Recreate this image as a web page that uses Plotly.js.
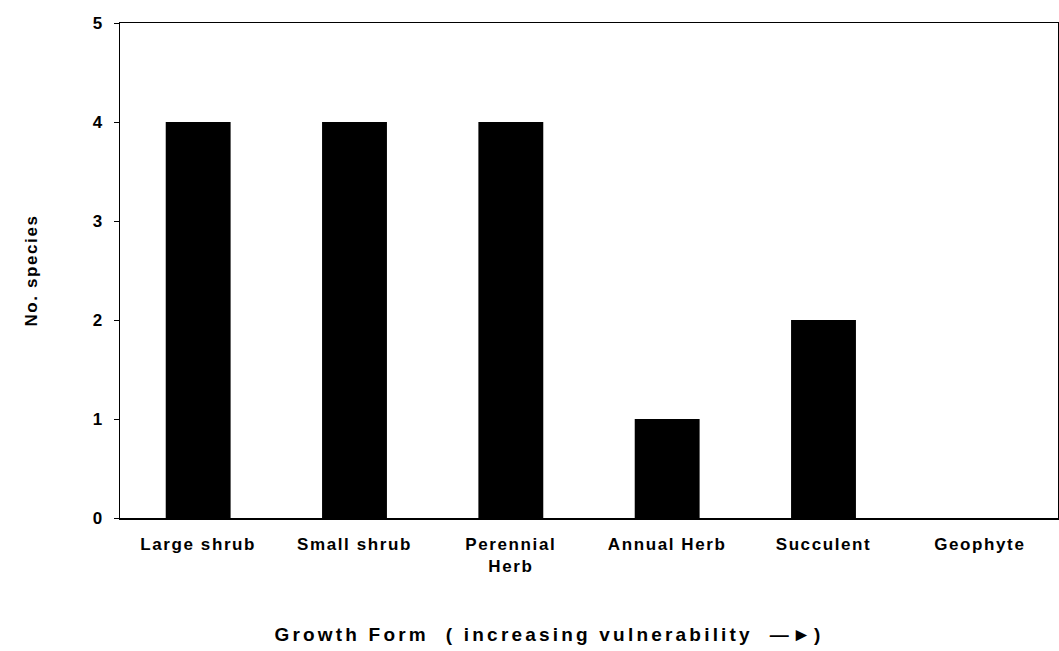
<!DOCTYPE html>
<html>
<head>
<meta charset="utf-8">
<script src="https://cdn.plot.ly/plotly-3.0.1.min.js"></script>
<style>
html, body { margin: 0; padding: 0; background: #fff; }
#chart { width: 1059px; height: 651px; }
.xtick text { letter-spacing: 1.6px; }
.g-xtitle text { letter-spacing: 3.2px; transform: translateX(-40px); }
.g-ytitle text { letter-spacing: 1.6px; }
</style>
</head>
<body>
<div id="chart"></div>
<script>
const categories = ["Large shrub", "Small shrub", "Perennial<br>Herb", "Annual Herb", "Succulent", "Geophyte"];
const speciesCounts = [4, 4, 4, 1, 2, 0];
const yTickValues = [0, 1, 2, 3, 4, 5];
const xAxisTitle = "Growth Form  ( increasing vulnerability  \u2014\u25BA)";
const yAxisTitle = "No. species";

const fontFamily = "Arial, 'Liberation Sans', Helvetica, sans-serif";

const trace = {
  type: "bar",
  x: categories,
  y: speciesCounts,
  marker: { color: "#000000", line: { width: 0 } },
  hoverinfo: "x+y"
};

const layout = {
  width: 1059,
  height: 651,
  margin: { l: 120, r: 1, t: 23, b: 133 },
  paper_bgcolor: "#ffffff",
  plot_bgcolor: "#ffffff",
  bargap: 0.585,
  showlegend: false,
  font: { family: fontFamily, color: "#000000" },
  xaxis: {
    type: "category",
    showline: true,
    mirror: true,
    linecolor: "#000000",
    linewidth: 1.5,
    ticks: "",
    showgrid: false,
    zeroline: false,
    tickfont: { family: fontFamily, size: 17, weight: "bold", color: "#000" },
    ticklabelstandoff: 10,
    title: {
      text: xAxisTitle,
      font: { family: fontFamily, size: 19, weight: "bold", color: "#000" },
      standoff: 52
    },
    automargin: false
  },
  yaxis: {
    range: [0, 5],
    tickvals: yTickValues,
    ticktext: yTickValues.map(String),
    showline: true,
    mirror: true,
    linecolor: "#000000",
    linewidth: 1.5,
    ticks: "outside",
    ticklen: 5,
    tickwidth: 1,
    tickcolor: "#000",
    showgrid: false,
    zeroline: false,
    tickfont: { family: fontFamily, size: 17, weight: "bold", color: "#000" },
    ticklabelstandoff: 8,
    title: {
      text: yAxisTitle,
      font: { family: fontFamily, size: 17, weight: "bold", color: "#000" },
      standoff: 50
    },
    automargin: false
  }
};

Plotly.newPlot("chart", [trace], layout, { displayModeBar: false, staticPlot: true });
</script>
</body>
</html>
